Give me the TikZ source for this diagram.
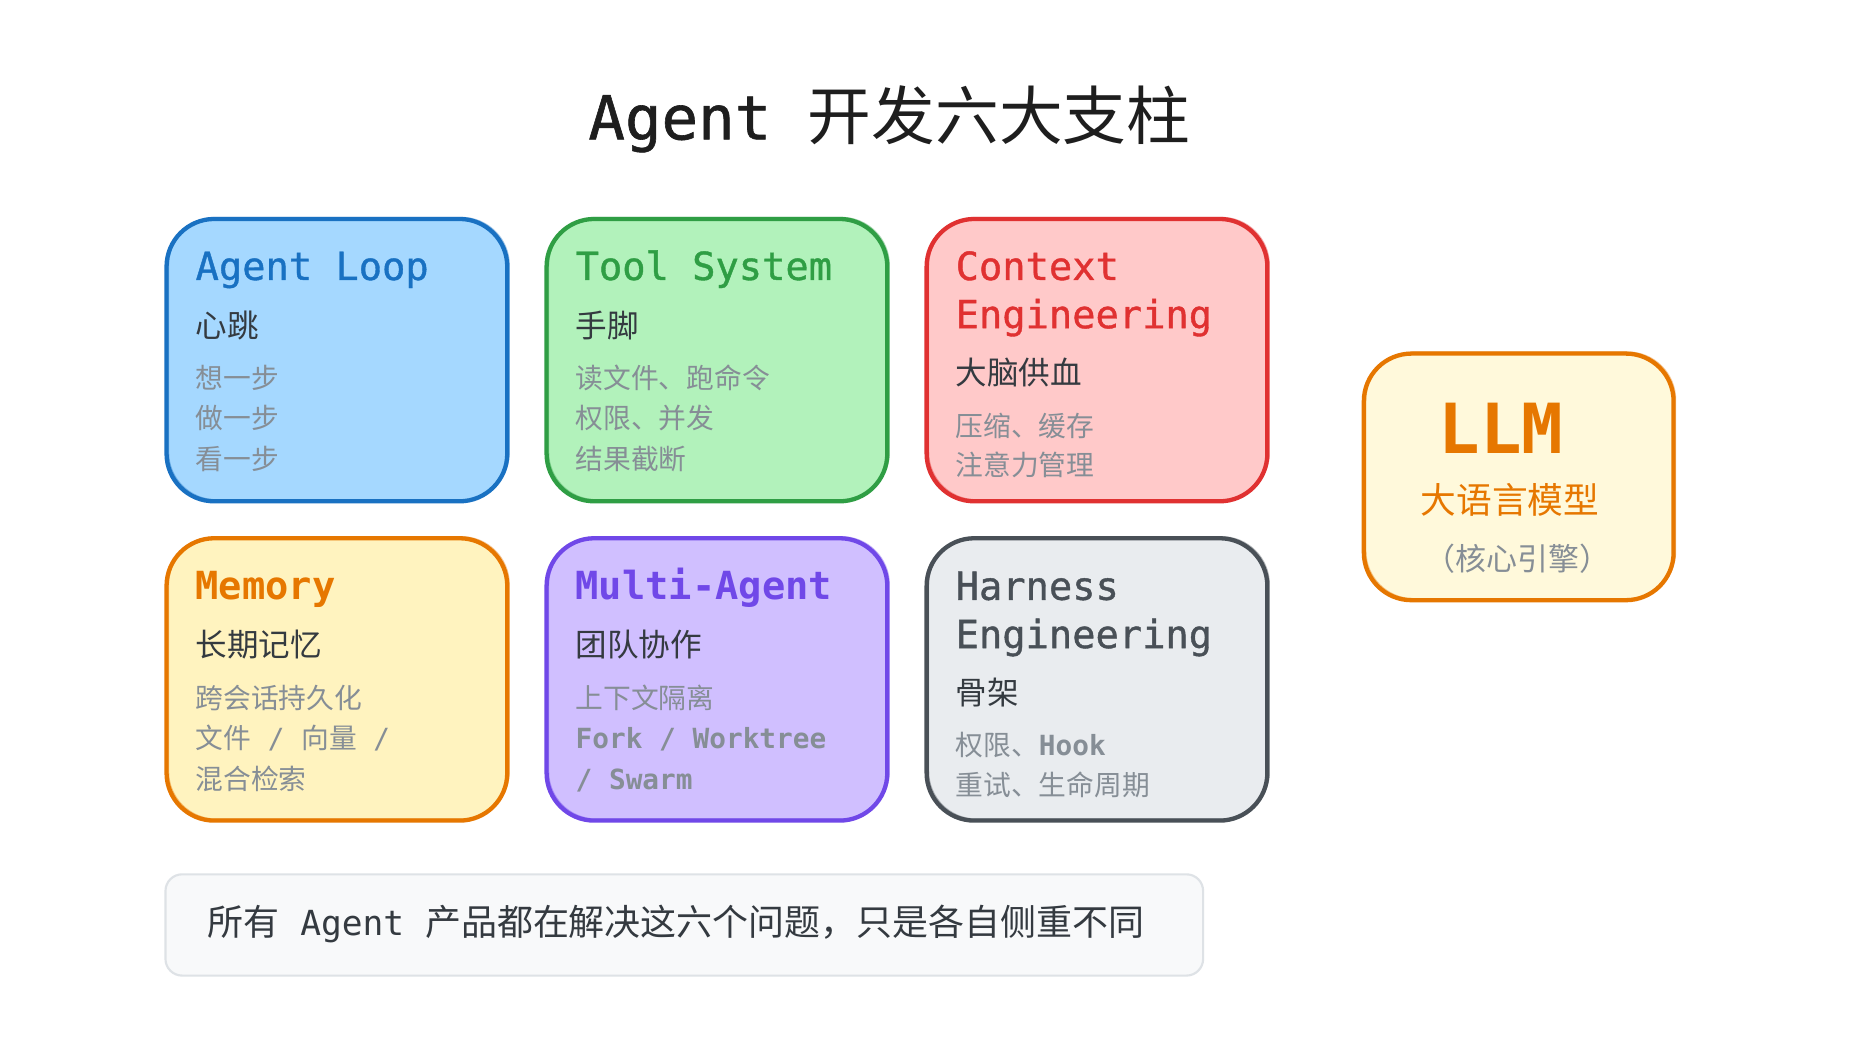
\documentclass[tikz,border=0pt]{standalone}
\usepackage{fontspec}
\setmainfont{DejaVu Sans Mono}
\newfontfamily\cjk{Noto Sans CJK SC}
\newfontfamily\mono{DejaVu Sans Mono}
\newfontfamily\monomed[FakeBold=1]{DejaVu Sans Mono}
\newcommand\lat[1]{{\mono\bfseries #1}}
\newcommand\mo[1]{{\mono #1}}
\definecolor{blueS}{HTML}{1971C2}\definecolor{blueF}{HTML}{A5D8FF}
\definecolor{greenS}{HTML}{2F9E44}\definecolor{greenF}{HTML}{B2F2BB}
\definecolor{redS}{HTML}{E03131}\definecolor{redF}{HTML}{FFC9C9}
\definecolor{orangeS}{HTML}{E67700}\definecolor{yellowF}{HTML}{FFF3BF}
\definecolor{llmF}{HTML}{FFF9DB}
\definecolor{violetS}{HTML}{7048E8}\definecolor{violetF}{HTML}{D0BFFF}
\definecolor{grayS}{HTML}{495057}\definecolor{grayF}{HTML}{E9ECEF}
\definecolor{subc}{HTML}{343A40}\definecolor{grayc}{HTML}{868E96}
\definecolor{titlec}{HTML}{1E1E1E}
\definecolor{noteF}{HTML}{F8F9FA}\definecolor{noteS}{HTML}{DEE2E6}
\begin{document}
\begin{tikzpicture}[x=1pt,y=1pt,
  card/.style={draw, line width=3.6pt, rounded corners=40pt, minimum width=286pt,
    minimum height=237pt, anchor=north west, inner sep=0pt,
    postaction={draw, line width=1.2pt, draw opacity=0.4, transform canvas={shift={(1.6pt,1.2pt)}}}},
  ttl/.style={anchor=base west, inner sep=0pt, font=\monomed\fontsize{32.5}{39}\selectfont},
  ttlb/.style={ttl, font=\mono\bfseries\fontsize{32.5}{39}\selectfont},
  sub/.style={anchor=base west, inner sep=0pt, text=subc, font=\cjk\fontsize{26.5}{32}\selectfont},
  gry/.style={anchor=base west, inner sep=0pt, text=grayc, font=\cjk\fontsize{23.3}{28}\selectfont},
]
\useasboundingbox[fill=white] (0,0) rectangle (1568,-891);

% title
\node[anchor=base, inner sep=0pt, text=titlec, font=\monomed\fontsize{51}{60}\selectfont] (title) at (746.5,-117)
  {Agent~{\cjk\fontsize{53.5}{60}\selectfont 开发六大支柱}};

% Agent Loop
\node[card, draw=blueS, fill=blueF] (loop) at (138,-182) {};
\node[ttl, text=blueS] (loop-t) at ([shift={(26,-53)}]loop.north west) {Agent Loop};
\node[sub] (loop-s) at ([shift={(26,-101)}]loop.north west) {心跳};
\node[gry] (loop-g1) at ([shift={(26,-144)}]loop.north west) {想一步};
\node[gry] (loop-g2) at ([shift={(26,-178)}]loop.north west) {做一步};
\node[gry] (loop-g3) at ([shift={(26,-212)}]loop.north west) {看一步};

% Tool System
\node[card, draw=greenS, fill=greenF] (tool) at (457,-182) {};
\node[ttl, text=greenS] (tool-t) at ([shift={(26,-53)}]tool.north west) {Tool System};
\node[sub] (tool-s) at ([shift={(26,-101)}]tool.north west) {手脚};
\node[gry] (tool-g1) at ([shift={(26,-144)}]tool.north west) {读文件、跑命令};
\node[gry] (tool-g2) at ([shift={(26,-178)}]tool.north west) {权限、并发};
\node[gry] (tool-g3) at ([shift={(26,-212)}]tool.north west) {结果截断};

% Context Engineering
\node[card, draw=redS, fill=redF] (ctx) at (776,-182) {};
\node[ttl, text=redS] (ctx-t1) at ([shift={(26,-53)}]ctx.north west) {Context};
\node[ttl, text=redS] (ctx-t2) at ([shift={(26,-93.5)}]ctx.north west) {Engineering};
\node[sub] (ctx-s) at ([shift={(26,-141)}]ctx.north west) {大脑供血};
\node[gry] (ctx-g1) at ([shift={(26,-184)}]ctx.north west) {压缩、缓存};
\node[gry] (ctx-g2) at ([shift={(26,-217)}]ctx.north west) {注意力管理};

% Memory
\node[card, draw=orangeS, fill=yellowF] (mem) at (138,-450) {};
\node[ttlb, text=orangeS] (mem-t) at ([shift={(26,-53)}]mem.north west) {Memory};
\node[sub] (mem-s) at ([shift={(26,-101)}]mem.north west) {长期记忆};
\node[gry] (mem-g1) at ([shift={(26,-144.5)}]mem.north west) {跨会话持久化};
\node[gry] (mem-g2) at ([shift={(26,-178.5)}]mem.north west) {文件\mo{~/~}向量\mo{~/}};
\node[gry] (mem-g3) at ([shift={(26,-212.5)}]mem.north west) {混合检索};

% Multi-Agent
\node[card, draw=violetS, fill=violetF] (multi) at (457,-450) {};
\node[ttlb, text=violetS] (multi-t) at ([shift={(26,-53)}]multi.north west) {Multi-Agent};
\node[sub] (multi-s) at ([shift={(26,-101)}]multi.north west) {团队协作};
\node[gry] (multi-g1) at ([shift={(26,-144.5)}]multi.north west) {上下文隔离};
\node[gry] (multi-g2) at ([shift={(26,-178.5)}]multi.north west) {\lat{Fork~/~Worktree}};
\node[gry] (multi-g3) at ([shift={(26,-212.5)}]multi.north west) {\lat{/~Swarm}};

% Harness Engineering
\node[card, draw=grayS, fill=grayF] (harness) at (776,-450) {};
\node[ttl, text=grayS] (har-t1) at ([shift={(26,-53.5)}]harness.north west) {Harness};
\node[ttl, text=grayS] (har-t2) at ([shift={(26,-94)}]harness.north west) {Engineering};
\node[sub] (har-s) at ([shift={(26,-141)}]harness.north west) {骨架};
\node[gry] (har-g1) at ([shift={(26,-184)}]harness.north west) {权限、\lat{Hook}};
\node[gry] (har-g2) at ([shift={(26,-218)}]harness.north west) {重试、生命周期};

% LLM
\node[card, draw=orangeS, fill=llmF, minimum width=260pt, minimum height=207pt] (llm) at (1143,-295) {};
\node[anchor=base, inner sep=0pt, text=orangeS, font=\mono\bfseries\fontsize{58}{64}\selectfont] (llm-t) at (1260,-380.5) {LLM};
\node[anchor=base, inner sep=0pt, text=orangeS, font=\cjk\fontsize{30}{36}\selectfont] (llm-s) at (1267.5,-431) {大语言模型};
\node[anchor=base, inner sep=0pt, text=grayc, font=\cjk\fontsize{26}{30}\selectfont] (llm-g) at (1274,-479) {（核心引擎）};

% bottom note
\node[draw=noteS, fill=noteF, line width=1.8pt, rounded corners=14pt, minimum width=871pt,
  minimum height=85pt, anchor=north west, inner sep=0pt] (note) at (138,-733) {};
\node[anchor=base west, inner sep=0pt, text=subc, font=\mono\fontsize{29}{34}\selectfont] (note-t) at (174,-785)
  {{\cjk\fontsize{30.2}{34}\selectfont 所有}~Agent~{\cjk\fontsize{30.2}{34}\selectfont 产品都在解决这六个问题，只是各自侧重不同}};
\end{tikzpicture}
\end{document}
